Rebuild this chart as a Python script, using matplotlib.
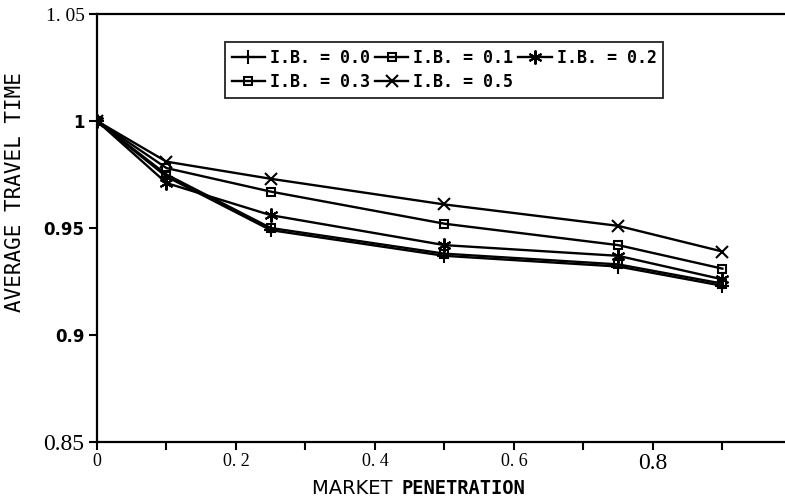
import matplotlib
matplotlib.use("Agg")
import matplotlib.pyplot as plt

# market penetration levels
penetration = [0.0, 0.1, 0.25, 0.5, 0.75, 0.9]

# average travel time (normalised) per information benefit level
ib_00 = [1.0, 0.974, 0.949, 0.937, 0.932, 0.923]
ib_01 = [1.0, 0.975, 0.950, 0.938, 0.933, 0.924]
ib_02 = [1.0, 0.971, 0.956, 0.942, 0.937, 0.926]
ib_03 = [1.0, 0.978, 0.967, 0.952, 0.942, 0.931]
ib_05 = [1.0, 0.981, 0.973, 0.961, 0.951, 0.939]

labels = ["I.B. = 0.0", "I.B. = 0.1", "I.B. = 0.2", "I.B. = 0.3", "I.B. = 0.5"]
series = [ib_00, ib_01, ib_02, ib_03, ib_05]
markers = ["+", "s", (6, 2, 0), "s", "x"]
msizes = [10, 6, 10, 6, 8]

fig = plt.figure(figsize=(7.85, 5.04), dpi=100)
ax = fig.add_axes([97 / 785, 1 - 442 / 504, 1 - 97 / 785, (442 - 14) / 504])

lines = []
for ys, lab, m, ms in zip(series, labels, markers, msizes):
    ln, = ax.plot(penetration, ys, color="black", lw=1.7, marker=m, ms=ms,
                  mfc="none", mec="black", mew=1.5, label=lab)
    lines.append(ln)

ax.set_xlim(0, 0.99)
ax.set_ylim(0.85, 1.05)
ax.spines["right"].set_visible(False)
for s in ["left", "bottom", "top"]:
    ax.spines[s].set_linewidth(1.6)

ax.set_xticks([0, 0.2, 0.4, 0.6, 0.8])
ax.set_xticks([0.1, 0.3, 0.5, 0.7, 0.9], minor=True)
ax.set_xticklabels(["0", "0. 2", "0. 4", "0. 6", "0.8"])
ax.set_yticks([0.85, 0.9, 0.95, 1.0, 1.05])
ax.set_yticklabels(["0.85", "0.9", "0.95", "1", "1. 05"])
ax.tick_params(axis="both", which="both", direction="out", width=1.5)
ax.tick_params(axis="x", which="both", length=6, pad=2)
ax.tick_params(axis="y", length=6, pad=3)

serif = "Liberation Serif"
sizes_x = [13, 13, 13, 13, 17]
for t, s in zip(ax.get_xticklabels(), sizes_x):
    t.set_fontfamily(serif)
    t.set_fontsize(s)
ytick_style = [(serif, 17, "normal"), ("DejaVu Sans", 12, "bold"),
               ("DejaVu Sans", 12, "bold"), ("DejaVu Sans", 12, "bold"),
               (serif, 14, "normal")]
for t, (fam, s, w) in zip(ax.get_yticklabels(), ytick_style):
    t.set_fontfamily(fam)
    t.set_fontsize(s)
    t.set_fontweight(w)

ax.set_ylabel("AVERAGE TRAVEL TIME", fontfamily="DejaVu Sans Mono",
              fontsize=15)
ax.yaxis.set_label_coords(-0.104, 0.585)

fig.text(0.508, 0.012, "MARKET ", ha="right", va="bottom",
         fontfamily="DejaVu Sans", fontsize=14)
fig.text(0.511, 0.012, "PENETRATION", ha="left", va="bottom",
         fontfamily="DejaVu Sans Mono", fontweight="bold", fontsize=13.5)

order = [0, 3, 1, 4, 2]
leg = fig.legend([lines[i] for i in order], [labels[i] for i in order],
                 ncol=3, loc="upper left", bbox_to_anchor=(225 / 785, 1 - 42 / 504),
                 borderaxespad=0,
                 frameon=True, fancybox=False, edgecolor="black",
                 prop={"family": "DejaVu Sans Mono", "weight": "bold", "size": 12},
                 handlelength=2.0, handletextpad=0.3, columnspacing=0.3,
                 borderpad=0.4, labelspacing=0.4)
leg.get_frame().set_linewidth(1.4)

fig.savefig("out.png", dpi=100)
